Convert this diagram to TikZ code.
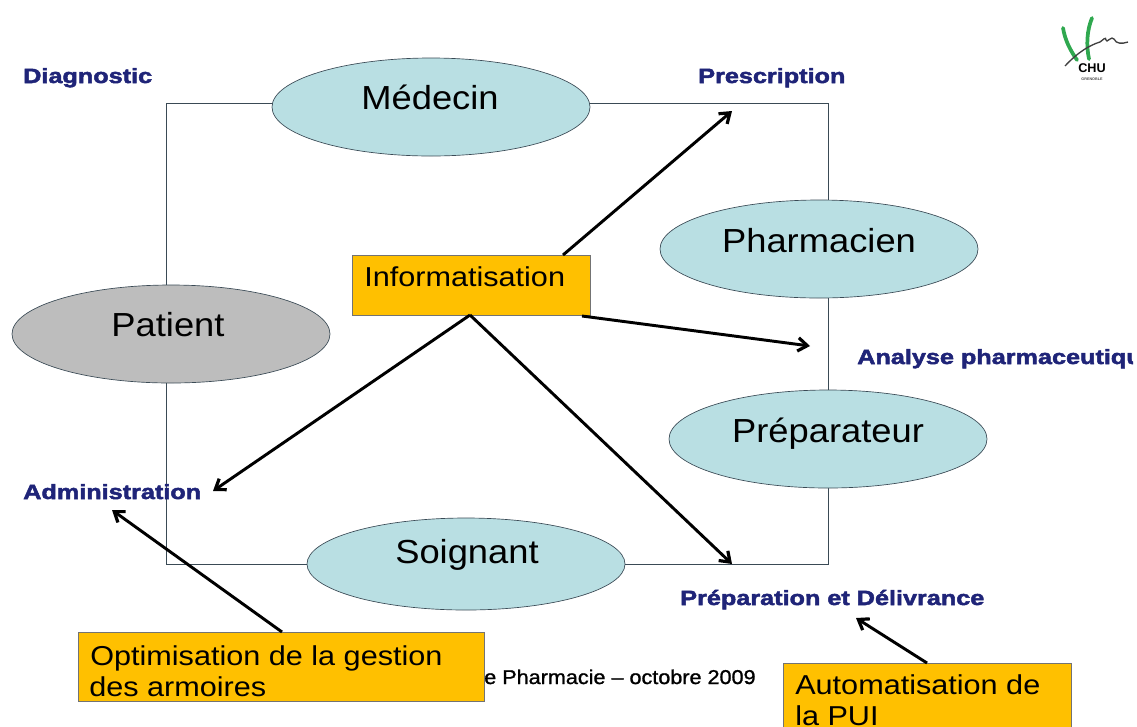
\documentclass[tikz,border=0pt]{standalone}
\usepackage{fontspec}
\setmainfont{Liberation Sans}
\newfontfamily\rolefont[FakeStretch=1.09]{Liberation Sans}
\newfontfamily\boxfont[FakeStretch=1.12]{Liberation Sans}
\newfontfamily\stagefont[FakeStretch=1.22,FakeBold=2.4]{Liberation Sans Bold}
\newfontfamily\footfont[FakeStretch=1.08,FakeBold=1.2]{Liberation Sans}
\usetikzlibrary{backgrounds,arrows.meta,calc,shapes.geometric}
\definecolor{teal1}{HTML}{B9DFE3}
\definecolor{gray1}{HTML}{BDBDBD}
\definecolor{amber}{HTML}{FFC000}
\definecolor{navy1}{HTML}{1F2478}
\definecolor{edge1}{HTML}{3A4A55}
\definecolor{logog}{HTML}{2FA84F}
\tikzset{
 role/.style={draw=edge1,line width=0.5pt,shape=ellipse,minimum width=238.5pt,minimum height=73.5pt,inner sep=0pt,fill=teal1},
 rolename/.style={anchor=base,inner sep=0pt,font=\rolefont\fontsize{25}{25}\selectfont},
 amberbox/.style={draw=black!55,line width=0.8pt,fill=amber,anchor=north west,inner sep=0pt},
 stage/.style={text=navy1,font=\stagefont\fontsize{15.5}{15.5}\selectfont,anchor=base west,inner sep=0pt},
 cycle line/.style={draw=edge1,line width=0.6pt},
 push/.style={draw=black,line width=2.2pt,-{Straight Barb[length=7pt,width=10pt,line width=2.4pt]}},
 boxtext/.style={anchor=base west,inner sep=0pt,font=\boxfont\fontsize{20.5}{20.5}\selectfont,text=black}
}
\begin{document}
\begin{tikzpicture}[x=0.75pt,y=-0.75pt]
\useasboundingbox (0,0) rectangle (1137,726);
\clip (0,0) rectangle (1133,726);
% roles
\node[role] (med) at (431,107) {};
\node[role] (pha) at (819,249) {};
\node[role,fill=gray1] (pat) at (171,334) {};
\node[role] (pre) at (828,439) {};
\node[role,minimum height=69pt] (soi) at (466,564) {};
\node[rolename] at (430,109) {Médecin};
\node[rolename] at (819,252) {Pharmacien};
\node[rolename] at (168,336) {Patient};
\node[rolename] at (828,442) {Préparateur};
\node[rolename] at (467,563) {Soignant};
\coordinate (tl) at (166,103);
\coordinate (tr) at (828,103);
\coordinate (br) at (828,564);
\coordinate (bl) at (166,564);
\begin{scope}[on background layer]
\draw[cycle line] (pat.center -| tl) -- (tl) -- (tl -| med) ;
\draw[cycle line] (tr -| med) -- (tr) -- (tr |- pha);
\draw[cycle line] (tr |- pha) -- (tr |- pre);
\draw[cycle line] (br |- pre) -- (br) -- (br -| soi);
\draw[cycle line] (bl -| soi) -- (bl) -- (bl |- pat);
\end{scope}
% stage labels
\node[stage] (sdia) at (23,83) {Diagnostic};
\node[stage] (spre) at (698,83) {Prescription};
\node[stage] (sana) at (857,364) {Analyse pharmaceutique};
\node[stage] (sadm) at (23,499) {Administration};
\node[stage] (sdel) at (680,605) {Préparation et Délivrance};
% footer
\node[anchor=base west,inner sep=0pt,font=\footfont\fontsize{15}{15}\selectfont] (foot) at (484,684) {e Pharmacie – octobre 2009};
% boxes
\node[amberbox,minimum width=178.5pt,minimum height=45pt] (info) at (352,255) {};
\node[boxtext] at (364,286) {Informatisation};
\node[amberbox,minimum width=304.5pt,minimum height=51.75pt] (opt) at (78,632) {};
\node[boxtext] at (90,665) {Optimisation de la gestion};
\node[boxtext] at (89,696) {des armoires};
\node[amberbox,minimum width=216pt,minimum height=70pt] (aut) at (783,663) {};
\node[boxtext] at (795,694) {Automatisation de};
\node[boxtext] at (795,725) {la PUI};
% arrows
\coordinate (a1s) at (563,255);
\coordinate (a1e) at (732,111);
\coordinate (a2s) at (582,316);
\coordinate (a2e) at (810,346);
\coordinate (a3s) at (470,315);
\coordinate (a3e) at (213,491);
\coordinate (a4e) at (732,564);
\coordinate (a5s) at (282,632);
\coordinate (a5e) at (112,510);
\coordinate (a6s) at (927,663);
\coordinate (a6e) at (856,618);
\draw[push] (a1s) -- (a1e);
\draw[push] (a2s) -- (a2e);
\draw[push] (a3s) -- (a3e);
\draw[push] (a3s) -- (a4e);
\draw[push] (a5s) -- (a5e);
\draw[push] (a6s) -- (a6e);
% logo
\draw[logog,line width=2.8pt,line cap=round] (1063,28) .. controls (1065,40) and (1070,50) .. (1077,60);
\draw[logog,line width=2.8pt,line cap=round] (1092,18) .. controls (1087,30) and (1086,45) .. (1089,59);
\draw[black!75,line width=1pt] (1065,66) .. controls (1078,52) and (1090,45) .. (1100,42) .. controls (1103,40) and (1106,36) .. (1106,40) .. controls (1106,44) and (1112,35) .. (1114,39) .. controls (1116,44) and (1122,44) .. (1128,42);
\node[inner sep=0pt,font=\bfseries\fontsize{9.5}{9.5}\selectfont] at (1092,68) {CHU};
\node[inner sep=0pt,font=\bfseries\fontsize{2.8}{3}\selectfont,text=black!70] at (1092,79) {GRENOBLE};
\end{tikzpicture}
\end{document}
